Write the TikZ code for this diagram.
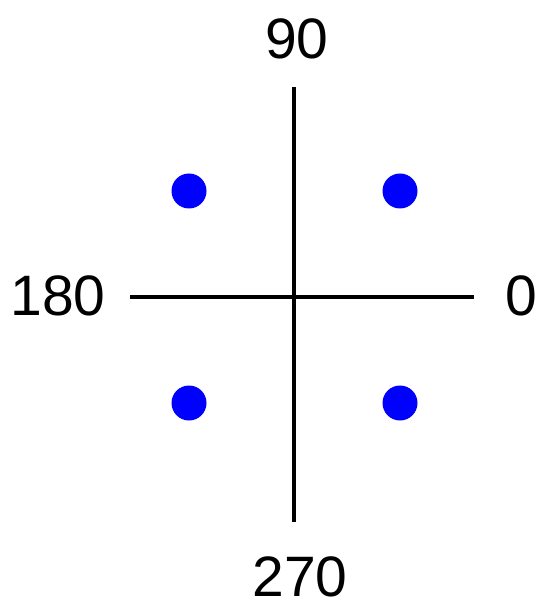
\documentclass[tikz,border=0pt]{standalone}
\usepackage{fontspec}
\setmainfont{Liberation Sans}
\begin{document}
\begin{tikzpicture}[x=1pt,y=-1pt,
  axis/.style={line width=4pt},
  dot/.style={circle,fill=blue,inner sep=0pt,minimum size=35pt},
  lbl/.style={font=\fontsize{57}{60}\selectfont,inner sep=0pt}]
\useasboundingbox (0,0) rectangle (537,601);
\coordinate (l) at (130,297);
\coordinate (r) at (474,297);
\coordinate (t) at (294,87);
\coordinate (b) at (294,522);
\draw[axis] (l) -- (r);
\draw[axis] (t) -- (b);
\node[dot] (d1) at (189,191) {};
\node[dot] (d2) at (400,191) {};
\node[dot] (d3) at (189,403) {};
\node[dot] (d4) at (400,403) {};
\node[lbl] (n90) at (297,39) {90};
\node[lbl] (n180) at (58,296) {180};
\node[lbl] (n0) at (521,296) {0};
\node[lbl] (n270) at (300,577) {270};
\end{tikzpicture}
\end{document}
